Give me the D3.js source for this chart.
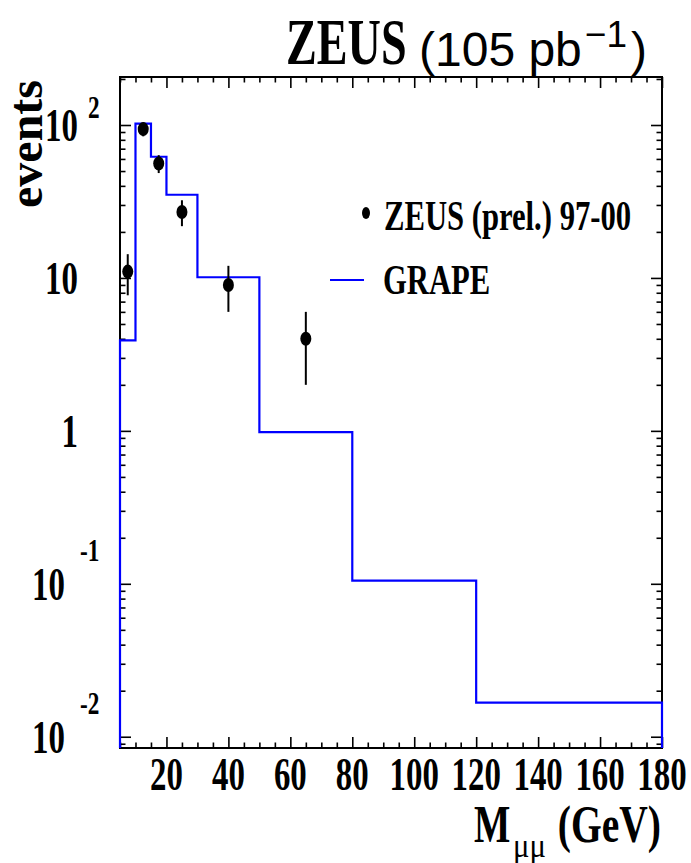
<!DOCTYPE html>
<html>
<head>
<meta charset="utf-8">
<script src="https://cdn.jsdelivr.net/npm/d3@7"></script>
<style>
  body { margin: 0; background: #fff; }
  svg { display: block; }
</style>
</head>
<body>
<svg id="chart"></svg>
<script>
// GRAPE histogram: bin edges (GeV) and bin contents
const binEdges = [5, 10, 15, 20, 30, 50, 80, 120, 180];
const grape = [3.9, 102, 62, 35, 10.1, 0.98, 0.105, 0.0167];

// ZEUS (prel.) 97-00 data points
const massCentres = [7.5, 12.5, 17.5, 25, 40, 65];
const events = [11, 94, 56, 27, 9, 4];
const errors = [3.3, 9.7, 7.5, 5.2, 3, 2];

// axis ticks and labels
const xMajor = [20, 40, 60, 80, 100, 120, 140, 160, 180];
const yLabels = [
  { v: 100, base: "10", exp: "2" },
  { v: 10, base: "10", exp: "" },
  { v: 1, base: "1", exp: "" },
  { v: 0.1, base: "10", exp: "-1" },
  { v: 0.01, base: "10", exp: "-2" }
];

const W = 691, H = 863;
const frameL = 120, frameR = 662, frameT = 77, frameB = 748;
const serif = "'Liberation Serif', 'Times New Roman', serif";
const sans = "'Liberation Sans', Arial, Helvetica, sans-serif";
const squeeze = 0.7;

const svg = d3.select("#chart").attr("width", W).attr("height", H);
svg.append("rect").attr("width", W).attr("height", H).attr("fill", "#fff");

const x = d3.scaleLinear().domain([5, 180]).range([frameL, frameR]);
const y = d3.scaleLog().domain([0.00844, 206]).range([frameB, frameT]);

// squeezed serif text (the original fonts are narrow)
function stext(g, px, py, str, size, anchor, sx, weight, family) {
  return g.append("text")
    .attr("transform", "translate(" + px + "," + py + ") scale(" + (sx || squeeze) + ",1)")
    .attr("text-anchor", anchor || "start")
    .attr("font-family", family || serif)
    .attr("font-weight", weight || "bold")
    .attr("font-size", size)
    .attr("fill", "#000")
    .text(str);
}

// minor ticks
const xMinor = d3.range(5, 181, 5).filter(d => xMajor.indexOf(d) < 0);
const yMinor = [];
for (let e = -3; e <= 2; e++) {
  for (let k = 2; k <= 9; k++) {
    const v = k * Math.pow(10, e);
    if (v > y.domain()[0] && v < y.domain()[1]) yMinor.push(v);
  }
}
const yMajor = yLabels.map(d => d.v);

function tickAxis(axisFn, scale, vals, size, transform) {
  const g = svg.append("g")
    .attr("transform", transform)
    .call(axisFn(scale).tickValues(vals).tickSize(-size).tickFormat(""));
  g.select(".domain").remove();
  g.selectAll("line").attr("stroke", "#000").attr("stroke-width", 1.6);
}
tickAxis(d3.axisBottom, x, xMajor, 11, "translate(0," + frameB + ")");
tickAxis(d3.axisBottom, x, xMinor, 5.5, "translate(0," + frameB + ")");
tickAxis(d3.axisTop, x, xMajor, 11, "translate(0," + frameT + ")");
tickAxis(d3.axisTop, x, xMinor, 5.5, "translate(0," + frameT + ")");
tickAxis(d3.axisLeft, y, yMajor, 11, "translate(" + frameL + ",0)");
tickAxis(d3.axisLeft, y, yMinor, 5.5, "translate(" + frameL + ",0)");
tickAxis(d3.axisRight, y, yMajor, 11, "translate(" + frameR + ",0)");
tickAxis(d3.axisRight, y, yMinor, 5.5, "translate(" + frameR + ",0)");

// frame
svg.append("rect")
  .attr("x", frameL).attr("y", frameT)
  .attr("width", frameR - frameL).attr("height", frameB - frameT)
  .attr("fill", "none").attr("stroke", "#000").attr("stroke-width", 2);

// GRAPE step histogram
const histPts = [[x(binEdges[0]), frameB]];
grape.forEach((v, i) => {
  histPts.push([x(binEdges[i]), y(v)]);
  histPts.push([x(binEdges[i + 1]), y(v)]);
});
histPts.push([x(binEdges[binEdges.length - 1]), frameB]);
svg.append("path")
  .attr("d", d3.line()(histPts))
  .attr("fill", "none")
  .attr("stroke", "#0000ff")
  .attr("stroke-width", 2.2);

// data points with error bars
const pts = svg.append("g");
massCentres.forEach((m, i) => {
  pts.append("line")
    .attr("x1", x(m)).attr("x2", x(m))
    .attr("y1", y(events[i] + errors[i])).attr("y2", y(events[i] - errors[i]))
    .attr("stroke", "#000").attr("stroke-width", 2);
  pts.append("ellipse")
    .attr("cx", x(m)).attr("cy", y(events[i]))
    .attr("rx", 5.5).attr("ry", 7)
    .attr("fill", "#000");
});

// x tick labels
xMajor.forEach(v => stext(svg, x(v), 790, String(v), 47, "middle"));

// y tick labels, ROOT style 10 with exponent above right
yLabels.forEach(d => {
  const ty = y(d.v);
  const neg = d.exp.startsWith("-");
  stext(svg, neg ? 65 : 78, ty + 16, d.base, 47, "end");
  if (d.exp) stext(svg, 80 + (neg ? 0 : 8), ty + (neg ? -23 : -7), d.exp, 31, "start", 0.75);
});

// axis titles
svg.append("text")
  .attr("transform", "translate(42,80) rotate(-90)")
  .attr("text-anchor", "end")
  .attr("font-family", serif).attr("font-weight", "bold")
  .attr("font-size", 48).text("events");

stext(svg, 474, 842, "M", 52, "start", 0.74);
stext(svg, 513, 857, "\u03bc\u03bc", 34, "start", 0.9, "normal");
stext(svg, 661, 842, "(GeV)", 52, "end", 0.76);

// title
stext(svg, 286, 64, "ZEUS", 66, "start", 0.7);
const lumi = svg.append("text")
  .attr("x", 419).attr("y", 66)
  .attr("font-family", sans).attr("font-size", 48).attr("fill", "#000");
lumi.append("tspan").text("(105 pb");
lumi.append("tspan").attr("dx", 3).attr("dy", -19).attr("font-size", 37).text("\u22121");
lumi.append("tspan").attr("dx", 4).attr("dy", 19).text(")");

// legend
svg.append("ellipse").attr("cx", 366).attr("cy", 213).attr("rx", 4).attr("ry", 6).attr("fill", "#000");
stext(svg, 384, 230, "ZEUS (prel.) 97-00", 42, "start", 0.73);
svg.append("line").attr("x1", 330).attr("x2", 364).attr("y1", 280).attr("y2", 280)
  .attr("stroke", "#0000ff").attr("stroke-width", 2);
stext(svg, 383, 294, "GRAPE", 42, "start", 0.73);
</script>
</body>
</html>
